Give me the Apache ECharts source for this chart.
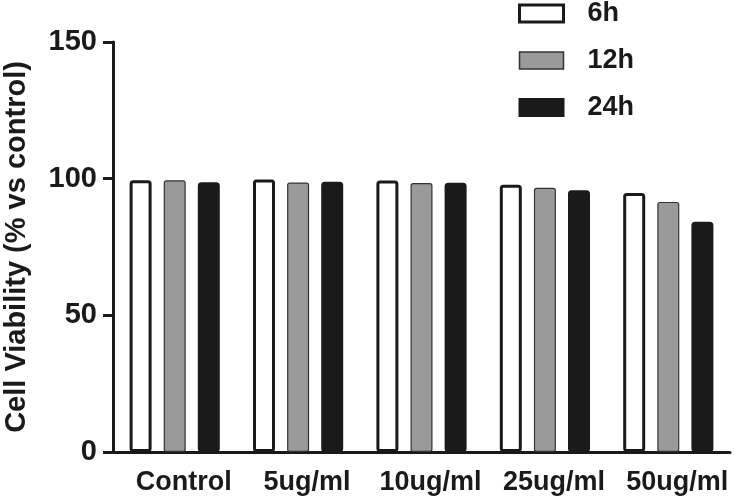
<!DOCTYPE html>
<html>
<head>
<meta charset="utf-8">
<script src="https://cdn.jsdelivr.net/npm/echarts@6/dist/echarts.min.js"></script>
<style>
  html, body { margin: 0; padding: 0; background: #fff; }
  #chart { width: 735px; height: 501px; }
</style>
</head>
<body>
<div id="chart"></div>
<script>
// values (% of control)
const categories = ['Control', '5ug/ml', '10ug/ml', '25ug/ml', '50ug/ml']
const h6 = [99.4, 99.7, 99.3, 97.8, 94.8]
const h12 = [99.4, 98.6, 98.4, 96.7, 91.5]
const h24 = [98.7, 98.9, 98.5, 95.8, 84.2]
const yTicks = [0, 50, 100, 150]

const ink = '#1a1a1a'
const font = '"Liberation Sans", Arial, sans-serif'

const chart = echarts.init(document.getElementById('chart'))

function barSeries(name, data, fill, border, bw) {
  return {
    name: name,
    type: 'bar',
    data: data,
    barWidth: 22,
    barGap: '55%',
    itemStyle: {
      color: fill,
      borderColor: border,
      borderWidth: bw,
      borderRadius: 2,
    },
    emphasis: { disabled: true },
  }
}

const option = {
  backgroundColor: '#fff',
  animation: false,
  textStyle: { fontFamily: font },
  grid: {
    left: 113,
    right: 5,
    top: 42,
    bottom: 49,
    containLabel: false,
    outerBoundsMode: 'none',
  },
  legend: {
    orient: 'vertical',
    left: 518,
    top: 0,
    padding: 0,
    itemWidth: 44,
    itemHeight: 17,
    itemGap: 20,
    icon: 'rect',
    textStyle: {
      fontSize: 27,
      fontWeight: 'bold',
      color: ink,
      fontFamily: font,
      padding: [0, 0, 0, 19],
    },
    data: [
      { name: '6h', itemStyle: { color: '#fff', borderColor: ink, borderWidth: 3 } },
      { name: '12h', itemStyle: { color: '#9a9a9a', borderColor: '#333', borderWidth: 1.5 } },
      { name: '24h', itemStyle: { color: ink, borderColor: ink, borderWidth: 2 } },
    ],
  },
  xAxis: {
    type: 'category',
    data: categories,
    axisLine: { lineStyle: { color: ink, width: 3 } },
    axisTick: { alignWithLabel: true, length: 9, lineStyle: { color: ink, width: 3 } },
    axisLabel: {
      fontSize: 27,
      fontWeight: 'bold',
      color: ink,
      margin: 17,
      padding: [0, 0, 0, 18],
      interval: 0,
    },
  },
  yAxis: {
    type: 'value',
    min: yTicks[0],
    max: yTicks[yTicks.length - 1],
    interval: 50,
    name: 'Cell Viability (% vs control)',
    nameLocation: 'middle',
    nameGap: 82,
    nameTextStyle: {
      fontSize: 29,
      fontWeight: 'bold',
      color: ink,
    },
    splitLine: { show: false },
    axisLine: { show: true, lineStyle: { color: ink, width: 3 } },
    axisTick: { show: true, length: 10, lineStyle: { color: ink, width: 3 } },
    axisLabel: {
      fontSize: 29,
      fontWeight: 'bold',
      color: ink,
      margin: 16,
    },
  },
  series: [
    barSeries('6h', h6, '#ffffff', ink, 3),
    barSeries('12h', h12, '#9a9a9a', '#333333', 1.2),
    barSeries('24h', h24, ink, ink, 3),
  ],
}

chart.setOption(option)
</script>
</body>
</html>
